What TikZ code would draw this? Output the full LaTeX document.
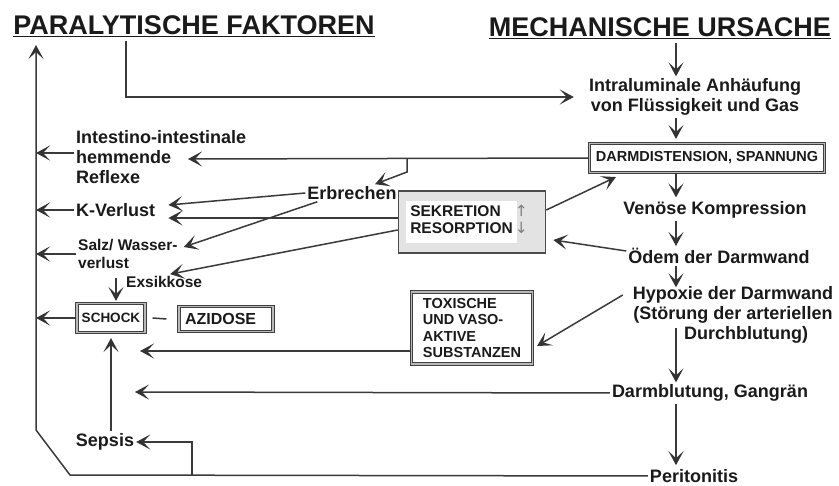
\documentclass[tikz,border=0pt]{standalone}
\usepackage{fontspec}
\setmainfont{Liberation Sans}
\newfontfamily\symfont{DejaVu Sans}
\usetikzlibrary{arrows.meta}
\definecolor{cinza}{HTML}{3A3A3A}
\definecolor{preto}{HTML}{1A1A1A}

\begin{document}
\begin{tikzpicture}[x=1pt, y=-1pt,
    txt/.style={font=\bfseries\fontsize{18}{20}\selectfont, text=preto, inner sep=2pt},
    menor/.style={font=\bfseries\fontsize{15.5}{18}\selectfont, text=preto, inner sep=2pt},
    titulo/.style={font=\bfseries\fontsize{27}{30}\selectfont, text=preto, anchor=base},
    caixa/.style={draw=black!75, double=gray!55, double distance=1.6pt, line width=1.1pt, fill=white, text=preto, inner sep=1pt},
    flecha/.style={draw=cinza, line width=1.5pt, -{Stealth[length=14pt,width=15pt,inset=7pt,color=black!80]}},
    reta/.style={draw=cinza, line width=1.5pt}]
        \fill[white] (0,0) rectangle (839,486);
        \useasboundingbox (0,0) rectangle (839,486);

        %Títulos
        \node[titulo] (paraly) at (194,35) {\underline{PARALYTISCHE FAKTOREN}};
        \node[titulo] (mech) at (660,37) {\underline{MECHANISCHE URSACHE}};

        %Coluna direita
        \node[txt, align=center] (intra) at (695,97) {Intraluminale Anhäufung\\von Flüssigkeit und Gas};
        \node[caixa, font=\bfseries\fontsize{14.5}{16}\selectfont, minimum width=235pt, minimum height=29pt] (distens) at (707,158) {DARMDISTENSION, SPANNUNG};
        \node[txt] (venoes) at (715,210) {Venöse Kompression};
        \node[txt] (oedem) at (719,256) {Ödem der Darmwand};
        \node[txt, align=center] (hypox) at (733,315) {Hypoxie der Darmwand\\(Störung der arteriellen\\\hspace*{26pt}Durchblutung)};
        \node[txt] (blutung) at (710,393) {Darmblutung, Gangrän};
        \node[txt] (perit) at (694,476) {Peritonitis};

        %Coluna esquerda
        \node[txt, align=left, anchor=west] (intest) at (74,157) {Intestino-intestinale\\hemmende\\Reflexe};
        \node[txt, anchor=west] (kverl) at (74,210) {K-Verlust};
        \node[menor, align=left, anchor=west] (salz) at (76,254) {Salz/ Wasser-\\verlust};
        \node[menor, anchor=west] (exsik) at (124,282) {Exsikkose};
        \node[caixa, font=\bfseries\fontsize{13.5}{15}\selectfont, minimum width=68pt, minimum height=29pt] (schock) at (111,318) {SCHOCK};
        \node[caixa, font=\bfseries\fontsize{16}{18}\selectfont, text width=82pt, inner xsep=6pt, minimum height=25pt] (azid) at (226,319) {AZIDOSE};
        \node[txt] (sepsis) at (105,442) {Sepsis};

        %Centro
        \node[txt] (erbr) at (352,193) {Erbrechen};
        \node[draw=black!70, line width=1.6pt, fill=gray!22, minimum width=147pt, minimum height=62pt, inner sep=0pt,
              font=\bfseries\fontsize{15.5}{17}\selectfont, text=preto] (sekret) at (472,222)
              {\hspace*{-10pt}{\fboxsep=4pt\colorbox{white}{\begin{tabular}{@{}l@{}}SEKRETION\\RESORPTION\end{tabular}}}\hspace{-2pt}%
               \begin{tabular}{@{}c@{}}\textcolor{gray}{\mdseries\symfont ↑}\\\textcolor{gray}{\mdseries\symfont ↓}\end{tabular}};
        \node[caixa, font=\bfseries\fontsize{14.5}{16.5}\selectfont, align=left, minimum width=121pt, minimum height=72pt] (toxisch) at (472,328) {TOXISCHE\\UND VASO-\\AKTIVE\\SUBSTANZEN};

        %Pontos
        \coordinate (meio) at (676,0);
        \coordinate (topo) at (36,45);
        \coordinate (canto1) at (36,430);
        \coordinate (canto2) at (70,475);
        \coordinate (ramo) at (192,475);
        \coordinate (reflexo) at (188,159);
        \coordinate (garfo) at (407,159);
        \coordinate (toxfim) at (140,351);
        \coordinate (blutfim) at (135,392);

        %flechas direita
        \draw[flecha] (mech.south -| meio) -- (intra.north -| meio);
        \draw[flecha, shorten >=4pt] (intra.south -| meio) -- (distens.north -| meio);
        \draw[flecha, shorten >=2pt] (distens.south -| meio) -- (venoes.north -| meio);
        \draw[flecha] (venoes.south -| meio) -- (oedem.north -| meio);
        \draw[flecha, shorten >=-3pt] (oedem.south -| meio) -- (hypox.north -| meio);
        \draw[flecha] ([yshift=18pt]hypox.south -| meio) -- (blutung.north -| meio);
        \draw[flecha, shorten >=2pt] (blutung.south -| meio) -- (perit.north -| meio);

        %flechas esquerda
        \draw[flecha] (perit.west) -- (canto2) -- (canto1) -- (topo);
        \draw[flecha] (ramo) |- (sepsis.east);
        \draw[flecha, shorten >=5pt] (sepsis.north -| schock.south) -- (schock.south);
        \draw[flecha] (schock.west) -- (schock.west -| topo);
        \draw[reta] ([xshift=7pt]schock.east) -- ([xshift=-12pt]azid.west);
        \draw[flecha] ([xshift=5pt,yshift=25pt]schock.north) -- ([xshift=5pt,yshift=2pt]schock.north);
        \draw[flecha] (salz.west) -- (salz.west -| topo);
        \draw[flecha] (kverl.west) -- (kverl.west -| topo);
        \draw[flecha] ([yshift=4pt]intest.west) -- ([yshift=4pt]intest.west -| topo);

        %flechas centro
        \draw[flecha] ([xshift=-68pt]paraly.south) |- ([xshift=-13pt]intra.west);
        \draw[flecha] (distens.west) -- (reflexo);
        \draw[flecha] (garfo) -- ++(0,13) -- ([xshift=23pt]erbr.north);
        \draw[flecha] (erbr.west) -- ([xshift=11pt,yshift=5pt]kverl.east);
        \draw[flecha] ([xshift=12pt]erbr.south west) -- ([xshift=4pt,yshift=7pt]salz.east);
        \draw[flecha] ([yshift=4pt]sekret.west) -- ([xshift=11pt,yshift=-8pt]kverl.east);
        \draw[flecha] ([yshift=-8pt]sekret.west) -- ([xshift=6pt]exsik.north);
        \draw[flecha] ([yshift=12pt]sekret.east) -- ([xshift=27pt,yshift=-4pt]distens.south west);
        \draw[flecha] ([yshift=5pt]oedem.west) -- ([xshift=7pt,yshift=-18pt]sekret.east);
        \draw[flecha] ([xshift=-8pt,yshift=20pt]hypox.west) -- ([xshift=4pt,yshift=-18pt]toxisch.east);
        \draw[flecha] (toxisch.west |- toxfim) -- (toxfim);
        \draw[flecha] (blutung.west) -- (blutfim);

    \end{tikzpicture}
\end{document}
